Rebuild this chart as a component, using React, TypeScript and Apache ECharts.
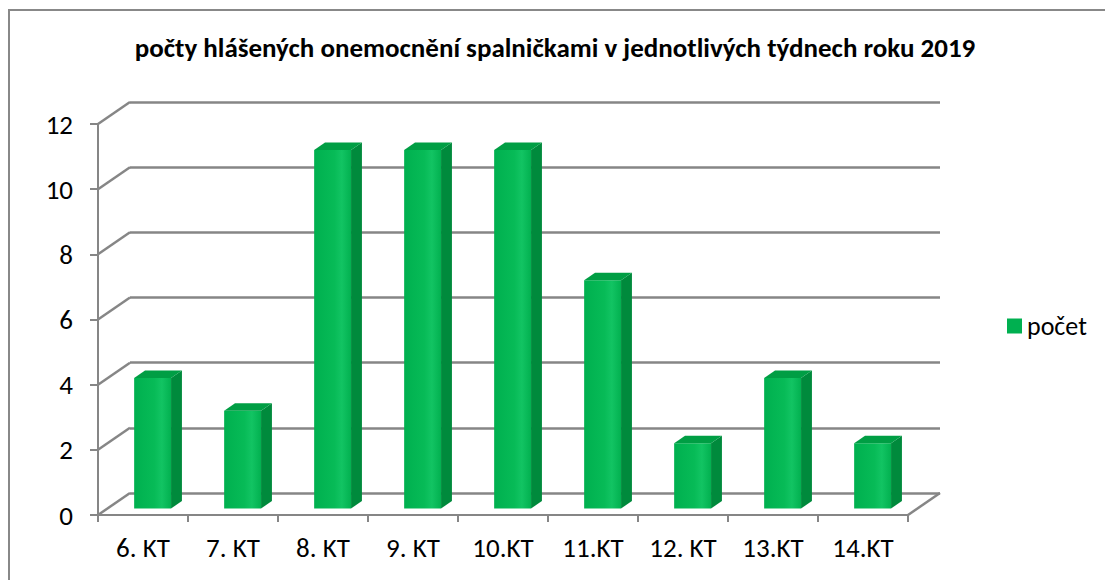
import React, { useEffect, useRef } from "react";
import * as echarts from "echarts";

const categories = ["6. KT", "7. KT", "8. KT", "9. KT", "10.KT", "11.KT", "12. KT", "13.KT", "14.KT"];
const counts = [4, 3, 11, 11, 11, 7, 2, 4, 2];
const yTicks = [0, 2, 4, 6, 8, 10, 12];
const titleText = "počty hlášených onemocnění spalničkami v jednotlivých týdnech roku 2019";
const seriesName = "počet";

const FONT = "Carlito, Calibri, Lato, 'Noto Sans', sans-serif";
const GRID_COLOR = "#868686";
// depth offset of the back wall relative to the front plane
const DX = 32;
const DY = -22;
const F1 = 0.3;
const F2 = 0.64;

export default function App() {
  const ref = useRef<HTMLDivElement>(null);
  useEffect(() => {
    if (!ref.current) return;
    const chart = echarts.init(ref.current, null, { renderer: "svg" });
    const option: any = {
      animation: false,
      backgroundColor: "#ffffff",
      title: {
        text: titleText,
        left: 555,
        textAlign: "center",
        top: 34,
        padding: 0,
        textStyle: { fontFamily: FONT, fontWeight: "bold", fontSize: 27, color: "#000" },
      },
      legend: {
        data: [seriesName],
        left: 1007,
        top: 313,
        orient: "vertical",
        itemWidth: 15,
        itemHeight: 15,
        itemGap: 8,
        icon: "rect",
        padding: 0,
        textStyle: { fontFamily: FONT, fontSize: 26, color: "#000" },
      },
      graphic: [
        {
          type: "rect",
          shape: { x: 9, y: 10, width: 1200, height: 700 },
          style: { fill: "none", stroke: "#888888", lineWidth: 2 },
          silent: true,
        },
      ],
      grid: [
        { left: 98, right: 197, top: 124, bottom: 65 },
        { left: 98 + DX, right: 197 - DX, top: 124 + DY, bottom: 65 - DY },
      ],
      xAxis: [
        {
          type: "category",
          gridIndex: 0,
          data: categories,
          axisLine: { show: true, lineStyle: { color: GRID_COLOR, width: 2 } },
          axisTick: { show: true, length: 7, lineStyle: { color: GRID_COLOR, width: 2 } },
          axisLabel: { fontFamily: FONT, fontSize: 27, color: "#000", margin: 19 },
          splitLine: { show: false },
        },
        {
          type: "category",
          gridIndex: 1,
          data: categories,
          show: false,
        },
      ],
      yAxis: [
        {
          type: "value",
          gridIndex: 0,
          min: 0,
          max: 12,
          interval: 2,
          axisLine: { show: true, lineStyle: { color: GRID_COLOR, width: 2 } },
          axisTick: { show: true, length: 8, lineStyle: { color: GRID_COLOR, width: 2 } },
          axisLabel: { fontFamily: FONT, fontSize: 27, color: "#000", margin: 25 },
          splitLine: { show: false },
        },
        {
          type: "value",
          gridIndex: 1,
          min: 0,
          max: 12,
          interval: 2,
          axisLine: { show: false },
          axisTick: { show: false },
          axisLabel: { show: false },
          splitLine: { show: true, lineStyle: { color: GRID_COLOR, width: 2.5 } },
        },
      ],
      series: [
        {
          type: "custom",
          name: "walls",
          xAxisIndex: 0,
          yAxisIndex: 0,
          silent: true,
          z: 1,
          data: yTicks.map((v) => [0, v]),
          renderItem: (params: any, api: any) => {
            const v = api.value(1);
            const half = api.size([1, 0])[0] / 2;
            const p = api.coord([0, v]);
            const x0 = p[0] - half;
            const children: any[] = [
              {
                type: "line",
                shape: { x1: x0, y1: p[1], x2: x0 + DX, y2: p[1] + DY },
                style: { stroke: GRID_COLOR, lineWidth: 2.5 },
              },
            ];
            if (v === 0) {
              const q = api.coord([categories.length - 1, 0]);
              const x1 = q[0] + half;
              children.push({
                type: "line",
                shape: { x1: x1, y1: q[1], x2: x1 + DX, y2: q[1] + DY },
                style: { stroke: GRID_COLOR, lineWidth: 2.5 },
              });
            }
            return { type: "group", children };
          },
        },
        {
          type: "custom",
          name: seriesName,
          xAxisIndex: 0,
          yAxisIndex: 0,
          z: 3,
          itemStyle: { color: "#00B050" },
          data: counts.map((v, i) => [i, v]),
          renderItem: (params: any, api: any) => {
            const i = api.value(0);
            const v = api.value(1);
            const base = api.coord([i, 0]);
            const top = api.coord([i, v]);
            const w = api.size([1, 0])[0] * 0.41;
            const fx = base[0] - w / 2 + DX * F1;
            const fyB = base[1] + DY * F1;
            const fyT = top[1] + DY * F1;
            const ox = DX * (F2 - F1);
            const oy = DY * (F2 - F1);
            const front = {
              type: "rect",
              shape: { x: fx, y: fyT, width: w, height: fyB - fyT },
              style: {
                fill: new echarts.graphic.LinearGradient(0, 0, 1, 0, [
                  { offset: 0, color: "#00b04f" },
                  { offset: 0.55, color: "#07bb57" },
                  { offset: 0.75, color: "#12c463" },
                  { offset: 1, color: "#02b150" },
                ]),
              },
            };
            const side = {
              type: "polygon",
              shape: {
                points: [
                  [fx + w, fyT],
                  [fx + w + ox, fyT + oy],
                  [fx + w + ox, fyB + oy],
                  [fx + w, fyB],
                ],
              },
              style: { fill: "#008a3c" },
            };
            const topFace = {
              type: "polygon",
              shape: {
                points: [
                  [fx, fyT],
                  [fx + w, fyT],
                  [fx + w + ox, fyT + oy],
                  [fx + ox, fyT + oy],
                ],
              },
              style: { fill: "#009e44" },
            };
            return { type: "group", children: [front, side, topFace] };
          },
        },
      ],
    };
    chart.setOption(option);
    return () => chart.dispose();
  }, []);
  return (
    <div
      ref={ref}
      style={{ position: "fixed", left: 0, top: 0, width: 1105, height: 580, background: "#fff" }}
    />
  );
}
